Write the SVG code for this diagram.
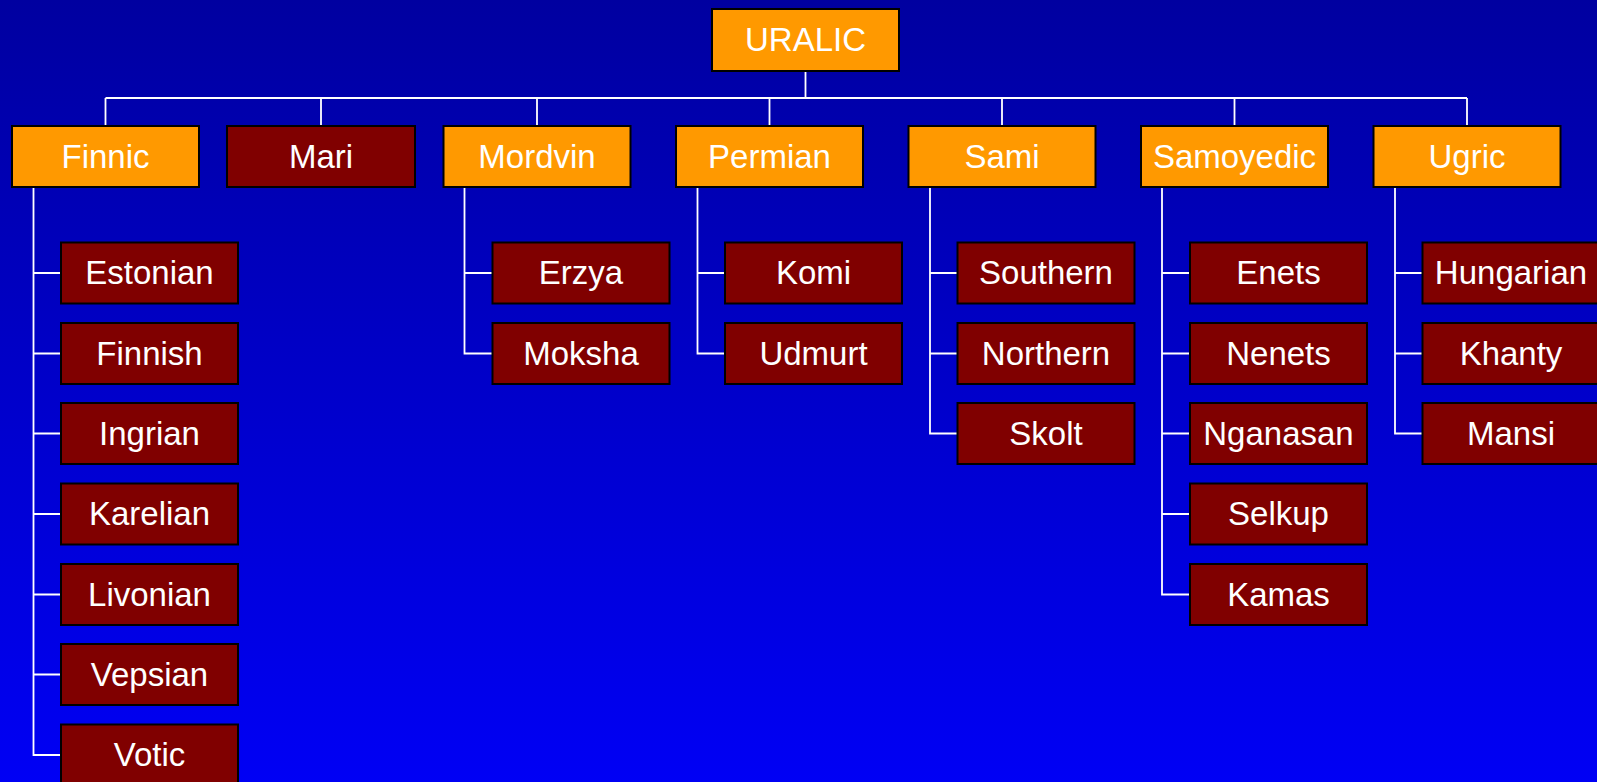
<svg xmlns="http://www.w3.org/2000/svg" width="1597" height="782" viewBox="0 0 1597 782">
<defs>
<linearGradient id="bg" x1="0" y1="0" x2="0" y2="1">
<stop offset="0" stop-color="#0000A0"/>
<stop offset="1" stop-color="#0000F5"/>
</linearGradient>
</defs>
<style>
.grp rect{fill:#FF9900;stroke:#000;stroke-width:2}
.lang rect{fill:#800000;stroke:#000;stroke-width:2}
text{font-family:"Liberation Sans",Arial,sans-serif;font-size:33px;fill:#fff;text-anchor:middle}
.conn path{fill:none;stroke:#fff;stroke-width:1.8}
</style>
<rect x="0" y="0" width="1597" height="782" fill="url(#bg)"/>
<g id="connectors" class="conn">
<path d="M805.5 71 V98 M105.5 98 H1467 M105.5 98 V126 M321 98 V126 M537 98 V126 M769.5 98 V126 M1002 98 V126 M1234.5 98 V126 M1467 98 V126"/>
<path d="M33.5 187 V755 H61 M33.5 273 H61 M33.5 353.5 H61 M33.5 433.5 H61 M33.5 514 H61 M33.5 594.5 H61 M33.5 674.5 H61"/>
<path d="M464.5 187 V353.5 H492.5 M464.5 273 H492.5"/>
<path d="M697.5 187 V353.5 H725 M697.5 273 H725"/>
<path d="M930 187 V433.5 H957.5 M930 273 H957.5 M930 353.5 H957.5"/>
<path d="M1162 187 V594.5 H1190 M1162 273 H1190 M1162 353.5 H1190 M1162 433.5 H1190 M1162 514 H1190"/>
<path d="M1395 187 V433.5 H1422.5 M1395 273 H1422.5 M1395 353.5 H1422.5"/>
</g>
<g id="uralic" class="grp"><rect x="712" y="9" width="187" height="62"/><text x="805.5" y="51">URALIC</text></g>
<g id="finnic" class="grp"><rect x="12" y="126" width="187" height="61"/><text x="105.5" y="167.5">Finnic</text></g>
<g id="mari" class="lang"><rect x="227" y="126" width="188" height="61"/><text x="321" y="167.5">Mari</text></g>
<g id="mordvin" class="grp"><rect x="443.5" y="126" width="187" height="61"/><text x="537" y="167.5">Mordvin</text></g>
<g id="permian" class="grp"><rect x="676" y="126" width="187" height="61"/><text x="769.5" y="167.5">Permian</text></g>
<g id="sami" class="grp"><rect x="908.5" y="126" width="187" height="61"/><text x="1002" y="167.5">Sami</text></g>
<g id="samoyedic" class="grp"><rect x="1141" y="126" width="187" height="61"/><text x="1234.5" y="167.5">Samoyedic</text></g>
<g id="ugric" class="grp"><rect x="1373.5" y="126" width="187" height="61"/><text x="1467" y="167.5">Ugric</text></g>
<g id="estonian" class="lang"><rect x="61" y="242.5" width="177" height="61"/><text x="149.5" y="284">Estonian</text></g>
<g id="finnish" class="lang"><rect x="61" y="323" width="177" height="61"/><text x="149.5" y="364.5">Finnish</text></g>
<g id="ingrian" class="lang"><rect x="61" y="403" width="177" height="61"/><text x="149.5" y="444.5">Ingrian</text></g>
<g id="karelian" class="lang"><rect x="61" y="483.5" width="177" height="61"/><text x="149.5" y="525">Karelian</text></g>
<g id="livonian" class="lang"><rect x="61" y="564" width="177" height="61"/><text x="149.5" y="605.5">Livonian</text></g>
<g id="vepsian" class="lang"><rect x="61" y="644" width="177" height="61"/><text x="149.5" y="685.5">Vepsian</text></g>
<g id="votic" class="lang"><rect x="61" y="724.5" width="177" height="61"/><text x="149.5" y="766">Votic</text></g>
<g id="erzya" class="lang"><rect x="492.5" y="242.5" width="177" height="61"/><text x="581" y="284">Erzya</text></g>
<g id="moksha" class="lang"><rect x="492.5" y="323" width="177" height="61"/><text x="581" y="364.5">Moksha</text></g>
<g id="komi" class="lang"><rect x="725" y="242.5" width="177" height="61"/><text x="813.5" y="284">Komi</text></g>
<g id="udmurt" class="lang"><rect x="725" y="323" width="177" height="61"/><text x="813.5" y="364.5">Udmurt</text></g>
<g id="southern" class="lang"><rect x="957.5" y="242.5" width="177" height="61"/><text x="1046" y="284">Southern</text></g>
<g id="northern" class="lang"><rect x="957.5" y="323" width="177" height="61"/><text x="1046" y="364.5">Northern</text></g>
<g id="skolt" class="lang"><rect x="957.5" y="403" width="177" height="61"/><text x="1046" y="444.5">Skolt</text></g>
<g id="enets" class="lang"><rect x="1190" y="242.5" width="177" height="61"/><text x="1278.5" y="284">Enets</text></g>
<g id="nenets" class="lang"><rect x="1190" y="323" width="177" height="61"/><text x="1278.5" y="364.5">Nenets</text></g>
<g id="nganasan" class="lang"><rect x="1190" y="403" width="177" height="61"/><text x="1278.5" y="444.5">Nganasan</text></g>
<g id="selkup" class="lang"><rect x="1190" y="483.5" width="177" height="61"/><text x="1278.5" y="525">Selkup</text></g>
<g id="kamas" class="lang"><rect x="1190" y="564" width="177" height="61"/><text x="1278.5" y="605.5">Kamas</text></g>
<g id="hungarian" class="lang"><rect x="1422.5" y="242.5" width="177" height="61"/><text x="1511" y="284">Hungarian</text></g>
<g id="khanty" class="lang"><rect x="1422.5" y="323" width="177" height="61"/><text x="1511" y="364.5">Khanty</text></g>
<g id="mansi" class="lang"><rect x="1422.5" y="403" width="177" height="61"/><text x="1511" y="444.5">Mansi</text></g>
</svg>
